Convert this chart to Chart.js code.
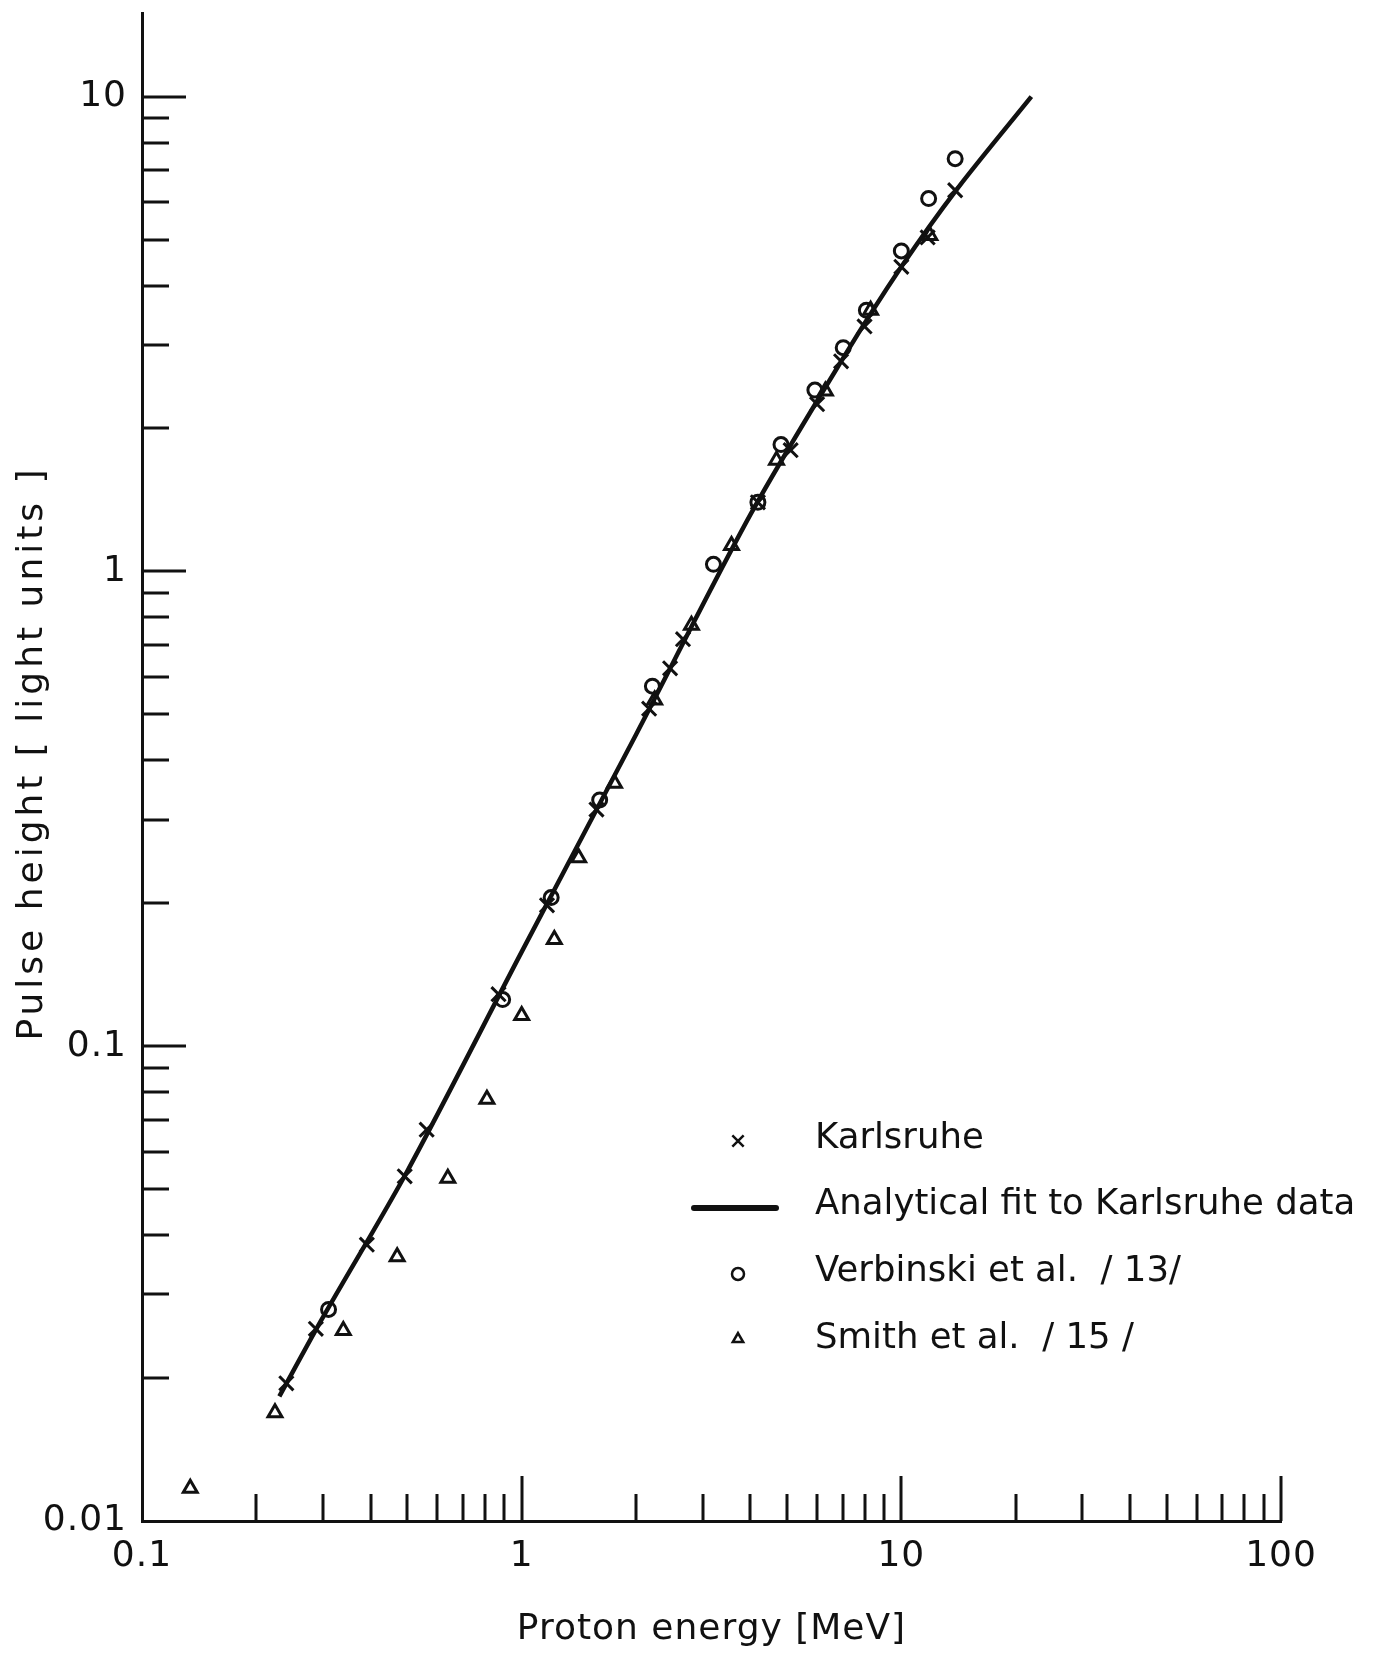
<!DOCTYPE html>
<html>
<head>
<meta charset="utf-8">
<title>Pulse height vs proton energy</title>
<script src="https://cdn.jsdelivr.net/npm/chart.js@4.4.0/dist/chart.umd.min.js"></script>
<style>
  html, body { margin: 0; padding: 0; background: #fff; }
  #wrap { width: 1375px; height: 1653px; }
</style>
</head>
<body>
<div id="wrap"><canvas id="plot" width="1375" height="1653"></canvas></div>
<script>
// proton energy [MeV] / pulse height [light units]
const karlsruheE = [0.240, 0.287, 0.391, 0.492, 0.562, 0.869, 1.166, 1.574, 2.166, 2.46, 2.66, 4.19, 5.11, 6.0, 6.94, 8.0, 10.0, 11.73, 13.86];
const karlsruheL = [0.0195, 0.0254, 0.0382, 0.0532, 0.0667, 0.1287, 0.198, 0.315, 0.514, 0.625, 0.72, 1.398, 1.80, 2.25, 2.77, 3.28, 4.38, 5.05, 6.35];

const fitE = [0.23, 0.3, 0.5, 1, 2, 4, 7, 10, 14, 22];
const fitL = [0.0183, 0.0269, 0.0546, 0.158, 0.453, 1.315, 2.80, 4.38, 6.38, 10];

const verbinskiE = [0.310, 0.891, 1.196, 1.605, 2.21, 3.20, 4.19, 4.82, 5.92, 7.03, 8.09, 10.0, 11.8, 13.86];
const verbinskiL = [0.0279, 0.1254, 0.2056, 0.330, 0.573, 1.035, 1.398, 1.85, 2.41, 2.96, 3.55, 4.73, 6.10, 7.40];

const smithE = [0.134, 0.224, 0.339, 0.470, 0.639, 0.810, 1.0, 1.219, 1.413, 1.756, 2.24, 2.80, 3.57, 4.69, 6.31, 8.30, 11.89];
const smithL = [0.01172, 0.0169, 0.0252, 0.0360, 0.0527, 0.0773, 0.116, 0.1677, 0.2495, 0.358, 0.536, 0.770, 1.134, 1.714, 2.40, 3.55, 5.10];

const xTicks = [0.1, 0.2, 0.3, 0.4, 0.5, 0.6, 0.7, 0.8, 0.9, 1, 2, 3, 4, 5, 6, 7, 8, 9, 10, 20, 30, 40, 50, 60, 70, 80, 90, 100];
const xMajor = [0.1, 1, 10, 100];
const xMajorLabels = ['0.1', '1', '10', '100'];

const yTicks = [0.01, 0.02, 0.03, 0.04, 0.05, 0.06, 0.07, 0.08, 0.09, 0.1, 0.2, 0.3, 0.4, 0.5, 0.6, 0.7, 0.8, 0.9, 1, 2, 3, 4, 5, 6, 7, 8, 9, 10];
const yMajor = [0.01, 0.1, 1, 10];
const yMajorLabels = ['0.01', '0.1', '1', '10'];

const xTitle = 'Proton energy [MeV]';
const yTitle = 'Pulse height [ light units ]';
const legendItems = ['Karlsruhe', 'Analytical fit to Karlsruhe data', 'Verbinski et al.  / 13/', 'Smith et al.  / 15 /'];

const ink = '#111';
const fontFamily = "'DejaVu Sans', 'Liberation Sans', sans-serif";

const toPoints = (xs, ys) => xs.map((x, i) => ({ x, y: ys[i] }));
const isMajor = (list, v) => list.some((m) => Math.abs(m - v) / m < 1e-6);

// the lettering of the original is spaced out a bit
const spacing = {
  id: 'spacing',
  beforeDraw(chart) {
    chart.ctx.letterSpacing = '1px';
  },
};

// inward tick marks, long at decades, short elsewhere
const innerTicks = {
  id: 'innerTicks',
  afterDraw(chart) {
    const { ctx, chartArea } = chart;
    const xs = chart.scales.x;
    const ys = chart.scales.y;
    ctx.save();
    ctx.strokeStyle = ink;
    ctx.lineWidth = 3;
    ctx.beginPath();
    xTicks.forEach((v) => {
      if (v === 0.1) return;
      const px = Math.round(xs.getPixelForValue(v));
      const len = isMajor(xMajor, v) ? 45 : 27;
      ctx.moveTo(px, chartArea.bottom);
      ctx.lineTo(px, chartArea.bottom - len);
    });
    yTicks.forEach((v) => {
      if (v === 0.01) return;
      const py = Math.round(ys.getPixelForValue(v));
      const len = isMajor(yMajor, v) ? 44 : 27;
      ctx.moveTo(chartArea.left, py);
      ctx.lineTo(chartArea.left + len, py);
    });
    ctx.stroke();
    ctx.restore();
  },
};

// rotated y title (wide letter spacing) and the legend inside the plot
const plotText = {
  id: 'plotText',
  afterDraw(chart) {
    const { ctx, chartArea } = chart;
    ctx.save();
    ctx.fillStyle = ink;
    ctx.font = `36px ${fontFamily}`;
    ctx.textBaseline = 'middle';
    ctx.textAlign = 'center';
    ctx.letterSpacing = '4px';
    ctx.translate(33, (chartArea.top + chartArea.bottom) / 2 - 14);
    ctx.rotate(-Math.PI / 2);
    ctx.fillText(yTitle, 0, 0);
    ctx.restore();

    const markX = 738;
    const textX = 815;
    const rows = [1139, 1205, 1272, 1339];
    ctx.save();
    ctx.fillStyle = ink;
    ctx.strokeStyle = ink;
    ctx.font = `35.5px ${fontFamily}`;
    ctx.letterSpacing = '0px';
    ctx.textBaseline = 'middle';
    ctx.textAlign = 'left';
    legendItems.forEach((label, i) => {
      ctx.fillText(label, textX, rows[i]);
    });
    ctx.fillStyle = 'rgba(0,0,0,0)';
    ctx.lineWidth = 2.5;
    Chart.helpers.drawPoint(ctx, { pointStyle: 'crossRot', radius: 8, borderWidth: 2.5 }, markX, rows[0] + 2);
    Chart.helpers.drawPoint(ctx, { pointStyle: 'circle', radius: 6, borderWidth: 2.5 }, markX, rows[2] + 2);
    Chart.helpers.drawPoint(ctx, { pointStyle: 'triangle', radius: 6, borderWidth: 2.5 }, markX, rows[3]);
    ctx.lineWidth = 6;
    ctx.lineCap = 'round';
    ctx.beginPath();
    ctx.moveTo(694, rows[1] + 3);
    ctx.lineTo(776, rows[1] + 3);
    ctx.stroke();
    ctx.restore();
  },
};

Chart.defaults.font.family = fontFamily;
Chart.defaults.color = ink;

new Chart(document.getElementById('plot'), {
  type: 'scatter',
  data: {
    datasets: [
      {
        label: 'Analytical fit to Karlsruhe data',
        data: toPoints(fitE, fitL),
        showLine: true,
        borderColor: ink,
        borderWidth: 4.5,
        pointRadius: 0,
        tension: 0.3,
        order: 4,
      },
      {
        label: 'Karlsruhe',
        data: toPoints(karlsruheE, karlsruheL),
        pointStyle: 'crossRot',
        pointRadius: 10,
        pointBorderWidth: 3,
        pointBorderColor: ink,
        pointBackgroundColor: 'transparent',
        order: 1,
      },
      {
        label: 'Verbinski et al. / 13/',
        data: toPoints(verbinskiE, verbinskiL),
        pointStyle: 'circle',
        pointRadius: 7,
        pointBorderWidth: 3,
        pointBorderColor: ink,
        pointBackgroundColor: 'transparent',
        order: 2,
      },
      {
        label: 'Smith et al. / 15 /',
        data: toPoints(smithE, smithL),
        pointStyle: 'triangle',
        pointRadius: 8,
        pointBorderWidth: 3,
        pointBorderColor: ink,
        pointBackgroundColor: 'transparent',
        order: 3,
      },
    ],
  },
  options: {
    responsive: false,
    animation: false,
    devicePixelRatio: 1,
    layout: {
      padding: { top: 8, right: 94, bottom: 0, left: 0 },
    },
    plugins: {
      legend: { display: false },
      tooltip: { enabled: false },
    },
    scales: {
      x: {
        type: 'logarithmic',
        position: 'bottom',
        min: 0.1,
        max: 100,
        grid: { display: false, drawTicks: false },
        border: { display: true, color: ink, width: 3 },
        afterBuildTicks: (scale) => {
          scale.ticks = xTicks.map((v) => ({ value: v }));
        },
        afterFit: (scale) => {
          scale.height = 132;
        },
        ticks: {
          autoSkip: false,
          maxRotation: 0,
          padding: 14,
          font: { size: 36 },
          color: ink,
          callback: (value) => {
            const i = xMajor.findIndex((m) => Math.abs(m - value) / m < 1e-6);
            return i >= 0 ? xMajorLabels[i] : '';
          },
        },
        title: {
          display: true,
          text: xTitle,
          font: { size: 36 },
          color: ink,
          padding: { top: 0, bottom: 2 },
        },
      },
      y: {
        type: 'logarithmic',
        position: 'left',
        min: 0.01,
        max: 15,
        grid: { display: false, drawTicks: false },
        border: { display: true, color: ink, width: 3 },
        afterBuildTicks: (scale) => {
          scale.ticks = yTicks.map((v) => ({ value: v }));
        },
        afterFit: (scale) => {
          scale.width = 142;
          scale.paddingTop = 0;
          scale.paddingBottom = 0;
        },
        ticks: {
          autoSkip: false,
          padding: 15,
          font: { size: 36 },
          color: ink,
          callback: (value) => {
            const i = yMajor.findIndex((m) => Math.abs(m - value) / m < 1e-6);
            return i >= 0 ? yMajorLabels[i] : '';
          },
        },
        title: { display: false },
      },
    },
  },
  plugins: [spacing, innerTicks, plotText],
});
</script>
</body>
</html>
